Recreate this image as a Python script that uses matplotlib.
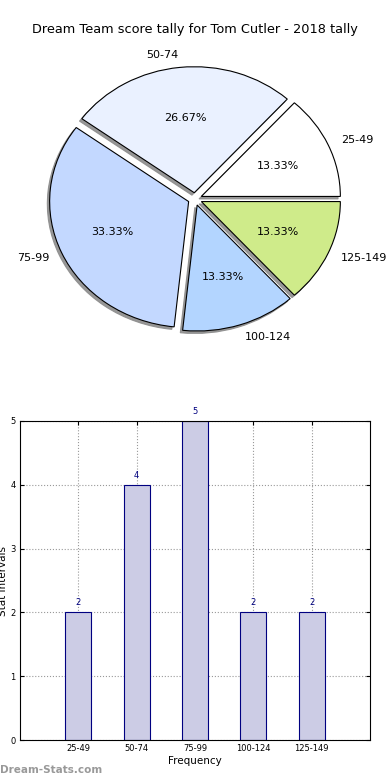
import matplotlib
matplotlib.use("Agg")
import matplotlib.pyplot as plt

categories = ["25-49", "50-74", "75-99", "100-124", "125-149"]
counts = [2, 4, 5, 2, 2]
pie_colors = ["#FFFFFF", "#EAF1FF", "#C3D8FF", "#B3D5FF", "#CFEB8A"]
yticks = [0, 1, 2, 3, 4, 5]

fig = plt.figure(figsize=(3.9, 7.8), dpi=100)

# ---- Pie ----
W, H = 390.0, 780.0
rx, ry = 139.0, 126.0
cx, cy = 195.0, 199.0
top_px, bot_px = 40.0, 360.0
axp = fig.add_axes([0, 1 - bot_px / H, 1, (bot_px - top_px) / H])
axp.pie(counts, labels=categories, colors=pie_colors, explode=[0.05] * 5,
        autopct="%1.2f%%", startangle=0,
        shadow=dict(ox=-0.012, oy=-0.014, facecolor="#8c8c8c", edgecolor="#8c8c8c", alpha=0.9),
        wedgeprops=dict(edgecolor="black", linewidth=0.8),
        textprops=dict(fontsize=8))
axp.set_aspect("auto")
axp.set_xlim(-cx / rx, (W - cx) / rx)
axp.set_ylim(-(bot_px - cy) / ry, (cy - top_px) / ry)
axp.axis("off")
fig.text(0.5, 1 - 30 / H, "Dream Team score tally for Tom Cutler - 2018 tally",
         ha="center", va="center", fontsize=9.3)

# ---- Bar ----
axb = fig.add_axes([20 / W, 40 / H, 350 / W, 319 / H])
x = list(range(len(categories)))
axb.bar(x, counts, width=0.45, color="#CCCCE5", edgecolor="#000080", linewidth=0.8, zorder=2)
for xi, c in zip(x, counts):
    axb.text(xi, c + 0.08, str(c), ha="center", va="bottom", fontsize=6, color="#000080")
axb.set_xlim(-1, 5)
axb.set_ylim(0, 5)
axb.set_xticks(x)
axb.set_xticklabels(categories, fontsize=6)
axb.set_yticks(yticks)
axb.set_yticklabels([str(v) for v in yticks], fontsize=6)
axb.tick_params(direction="in", length=3, top=True, right=True, pad=3)
axb.grid(True, linestyle=":", color="#999999", linewidth=0.8, zorder=0)
axb.set_axisbelow(True)
axb.set_xlabel("Frequency", fontsize=7.5, labelpad=2)
axb.set_ylabel("Stat Intervals", fontsize=7.5, labelpad=2)
fig.text(0.0, 1 - 770 / H, "Dream-Stats.com", ha="left", va="center",
         fontsize=7.5, color="#999999", fontweight="bold")

fig.savefig("out.png", dpi=100)
